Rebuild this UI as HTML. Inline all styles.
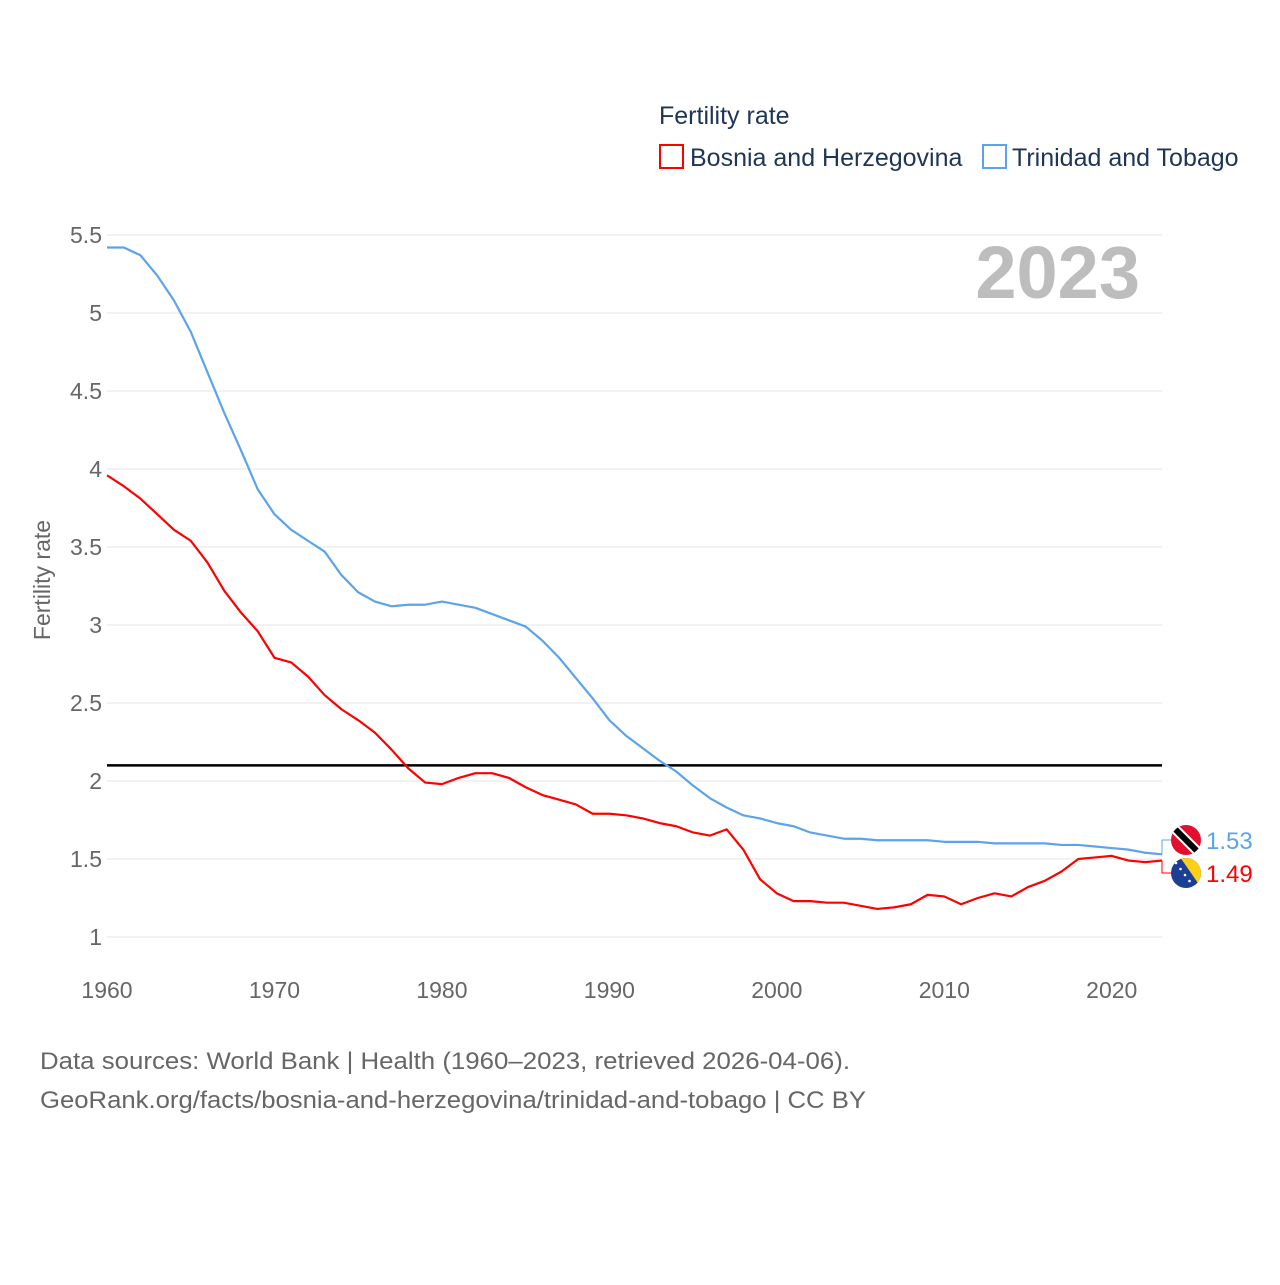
<!DOCTYPE html>
<html><head><meta charset="utf-8">
<style>
body{margin:0;background:#fff;font-family:"Liberation Sans",sans-serif;}
svg text{font-family:"Liberation Sans",sans-serif;}
</style></head>
<body>
<svg id="chart" width="1280" height="1280" viewBox="0 0 1280 1280" xmlns="http://www.w3.org/2000/svg">
<g id="grid"></g>
<g id="yticks"></g>
<g id="xticks"></g>
<text x="1140" y="298" text-anchor="end" font-size="74" font-weight="bold" fill="#bdbdbd">2023</text>
<text transform="translate(50,580) rotate(-90)" text-anchor="middle" font-size="23" fill="#666">Fertility rate</text>
<g id="series"></g>
<g id="ends"></g>
<g>
<text x="659" y="124" font-size="25" fill="#1d3557">Fertility rate</text>
<g>
<rect x="660" y="145" width="23" height="23" fill="none" stroke="#ff0000" stroke-width="2"/>
<text x="690" y="166" font-size="25" fill="#1d3557">Bosnia and Herzegovina</text></g>
<g>
<rect x="983" y="145" width="23" height="23" fill="none" stroke="#5ba4ea" stroke-width="2"/>
<text x="1012" y="166" font-size="25" fill="#1d3557">Trinidad and Tobago</text></g>
</g>
<text x="40" y="1069" font-size="24" fill="#666" textLength="810" lengthAdjust="spacingAndGlyphs">Data sources: World Bank | Health (1960–2023, retrieved 2026-04-06).</text>
<text x="40" y="1108" font-size="24" fill="#666" textLength="826" lengthAdjust="spacingAndGlyphs">GeoRank.org/facts/bosnia-and-herzegovina/trinidad-and-tobago | CC BY</text>
</svg>
<script>
const years = [];
for (let y = 1960; y <= 2023; y++) years.push(y);
const bosnia = [3.96,3.89,3.81,3.71,3.61,3.54,3.40,3.22,3.08,2.96,2.79,2.76,2.67,2.55,2.46,2.39,2.31,2.20,2.08,1.99,1.98,2.02,2.05,2.05,2.02,1.96,1.91,1.88,1.85,1.79,1.79,1.78,1.76,1.73,1.71,1.67,1.65,1.69,1.56,1.37,1.28,1.23,1.23,1.22,1.22,1.20,1.18,1.19,1.21,1.27,1.26,1.21,1.25,1.28,1.26,1.32,1.36,1.42,1.50,1.51,1.52,1.49,1.48,1.49];
const trinidad = [5.42,5.42,5.37,5.24,5.08,4.88,4.62,4.36,4.12,3.87,3.71,3.61,3.54,3.47,3.32,3.21,3.15,3.12,3.13,3.13,3.15,3.13,3.11,3.07,3.03,2.99,2.90,2.79,2.66,2.53,2.39,2.29,2.21,2.13,2.06,1.97,1.89,1.83,1.78,1.76,1.73,1.71,1.67,1.65,1.63,1.63,1.62,1.62,1.62,1.62,1.61,1.61,1.61,1.60,1.60,1.60,1.60,1.59,1.59,1.58,1.57,1.56,1.54,1.53];
const yTicks = [1,1.5,2,2.5,3,3.5,4,4.5,5,5.5];
const xTicks = [1960,1970,1980,1990,2000,2010,2020];
const replacement = 2.1;

const NS = "http://www.w3.org/2000/svg";
const xs = y => 107 + (y - 1960) * (1162 - 107) / 63;
const ys = v => 937 - (v - 1) * 156;
function mk(tag, attrs, parent){const e=document.createElementNS(NS,tag);for(const k in attrs)e.setAttribute(k,attrs[k]);parent.appendChild(e);return e;}
const grid=document.getElementById('grid'),yt=document.getElementById('yticks'),xt=document.getElementById('xticks');
yTicks.forEach(v=>{
  const l=mk('line',{x1:107,x2:1162,y1:ys(v),y2:ys(v),stroke:'#e6e6e6','stroke-width':1},grid);
  
  
  const t=mk('text',{x:102,y:ys(v)+8,'text-anchor':'end','font-size':23,fill:'#666'},yt);
  t.textContent=String(v);
  
  
});
xTicks.forEach(v=>{
  const t=mk('text',{x:xs(v),y:998,'text-anchor':'middle','font-size':23,fill:'#666'},xt);
  t.textContent=String(v);
  
  
});
const ser=document.getElementById('series');
const rl=mk('line',{x1:107,x2:1162,y1:ys(replacement),y2:ys(replacement),stroke:'#000','stroke-width':2.5},ser);


function line(data,color,name){
  const p=mk('polyline',{points:data.map((v,i)=>xs(years[i])+','+ys(v)).join(' '),fill:'none',stroke:color,'stroke-width':2.2,'stroke-linejoin':'round'},ser);
  
  
}
line(trinidad,'#5ba4ea','trinidad-line');
line(bosnia,'#ff0000','bosnia-line');

const ends=document.getElementById('ends');
const lx=xs(2023), tv=trinidad[trinidad.length-1], bv=bosnia[bosnia.length-1];
const ty=840, by=873;
mk('polyline',{points:`${lx},${ys(tv)} ${lx},${ty} ${lx+12},${ty}`,fill:'none',stroke:'#5ba4ea','stroke-width':1},ends);
mk('polyline',{points:`${lx},${ys(bv)} ${lx},${by} ${lx+12},${by}`,fill:'none',stroke:'#ff0000','stroke-width':1},ends);
const tf=mk('g',{},ends);


const cp1=mk('clipPath',{id:'c1'},tf);mk('circle',{cx:1186,cy:ty,r:15},cp1);
const tg=mk('g',{'clip-path':'url(#c1)'},tf);
mk('rect',{x:1170,y:ty-16,width:32,height:32,fill:'#e2102f'},tg);
mk('line',{x1:1172,y1:ty-14,x2:1200,y2:ty+14,stroke:'#fff','stroke-width':10},tg);
mk('line',{x1:1172,y1:ty-14,x2:1200,y2:ty+14,stroke:'#000','stroke-width':6},tg);
const bf=mk('g',{},ends);


const cp2=mk('clipPath',{id:'c2'},bf);mk('circle',{cx:1186,cy:by,r:15},cp2);
const bg=mk('g',{'clip-path':'url(#c2)'},bf);
mk('rect',{x:1170,y:by-16,width:32,height:32,fill:'#1c3f95'},bg);
mk('polygon',{points:`1180,${by-16} 1202,${by-16} 1202,${by+16}`,fill:'#fdd017'},bg);
for(let i=0;i<5;i++)mk('circle',{cx:1176+i*4.5,cy:by-10+i*6,r:1.3,fill:'#fff'},bg);
const t1=mk('text',{x:1206,y:ty+9,'font-size':24,fill:'#5ba4ea'},ends);t1.textContent=tv.toFixed(2);


const t2=mk('text',{x:1206,y:by+9,'font-size':24,fill:'#ff0000'},ends);t2.textContent=bv.toFixed(2);


</script>
</body></html>
